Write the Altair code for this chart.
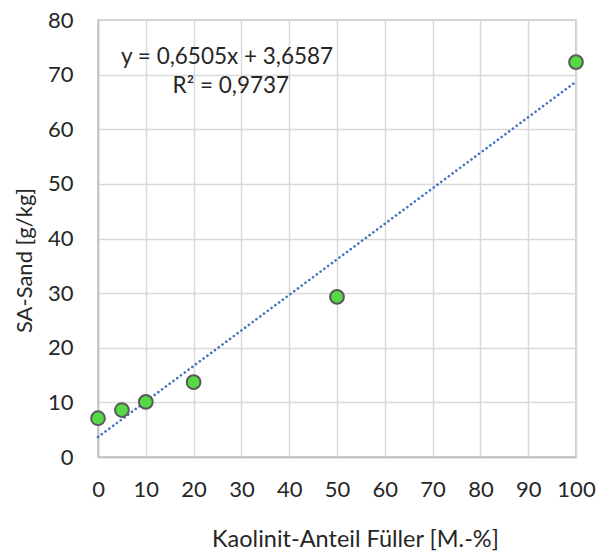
import altair as alt
import pandas as pd

# Kaolinit share of the filler vs. SA-Sand
kaolinit = [0, 5, 10, 20, 50, 100]
sa_sand = [7.1, 8.6, 10.1, 13.7, 29.3, 72.3]

# linear trend as stated in the annotation
slope = 0.6505
intercept = 3.6587
r2 = 0.9737
trend_x = [0, 100]

points = pd.DataFrame({"x": kaolinit, "y": sa_sand})
trend = pd.DataFrame({"x": trend_x, "y": [slope * v + intercept for v in trend_x]})
labels = pd.DataFrame({
    "x": [27.0, 27.8],
    "y": [73.2, 67.9],
    "text": ["y = 0,6505x + 3,6587", "R² = 0,9737"],
})

FONT = "Lato"

x_scale = alt.Scale(domain=[0, 100], nice=False, zero=True)
y_scale = alt.Scale(domain=[0, 80], nice=False)

x_axis = alt.Axis(
    title="Kaolinit-Anteil Füller [M.-%]",
    values=list(range(0, 101, 10)),
    labelPadding=22, titlePadding=27, labelFlush=False, labelOverlap=False,
    titleX=257, titleFontSize=23.5,
    ticks=False, domainColor="#bfbfbf", domainWidth=1.5,
    gridColor="#d9d9d9", gridWidth=1.5,
)
y_axis = alt.Axis(
    title="SA-Sand [g/kg]",
    values=list(range(0, 81, 10)),
    labelPadding=25, titlePadding=11, labelFlush=False, labelOverlap=False,
    titleY=240,
    ticks=False, domainColor="#bfbfbf", domainWidth=1.5,
    gridColor="#d9d9d9", gridWidth=1.5,
)

line = alt.Chart(trend).mark_line(
    color="#4472c4", strokeWidth=2.6, strokeDash=[0.1, 4.6], strokeCap="round"
).encode(
    x=alt.X("x:Q", scale=x_scale, axis=x_axis),
    y=alt.Y("y:Q", scale=y_scale, axis=y_axis),
)

dots = alt.Chart(points).mark_point(
    filled=True, shape="circle", size=190, color="#55d945",
    stroke="#595959", strokeWidth=2, opacity=1,
).encode(
    x=alt.X("x:Q", scale=x_scale),
    y=alt.Y("y:Q", scale=y_scale),
)

text = alt.Chart(labels).mark_text(
    font=FONT, fontSize=22.5, color="#262626", align="center", baseline="middle"
).encode(
    x=alt.X("x:Q", scale=x_scale),
    y=alt.Y("y:Q", scale=y_scale),
    text="text:N",
)

chart = (line + dots + text).properties(
    width=478, height=437,
    background="white",
    autosize=alt.AutoSizeParams(type="none"),
    padding={"left": 98, "top": 20, "right": 30, "bottom": 97},
).configure_view(
    stroke="#bfbfbf", strokeWidth=1.5,
).configure_axis(
    labelFont=FONT, titleFont=FONT, labelFontSize=22, titleFontSize=22,
    labelColor="#262626", titleColor="#262626", titleFontWeight="normal",
)

chart.save("out.html", embed_options={"renderer": "svg", "actions": False})
